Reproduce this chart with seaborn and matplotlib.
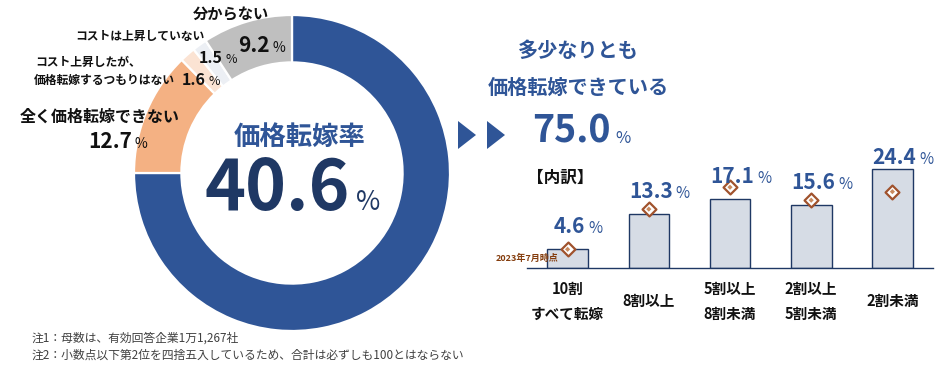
import numpy as np
import pandas as pd
import matplotlib
matplotlib.use("Agg")
import matplotlib.pyplot as plt
from matplotlib.patches import Polygon
import seaborn as sns

# ---------------- data ----------------
donut_labels = ["価格転嫁できている", "全く価格転嫁できない", "コスト上昇したが、価格転嫁するつもりはない",
                "コストは上昇していない", "分からない"]
donut_values = [75.0, 12.7, 1.6, 1.5, 9.2]
pass_rate = "40.6"

bar_categories = ["10割\nすべて転嫁", "8割以上", "5割以上\n8割未満", "2割以上\n5割未満", "2割未満"]
bar_values = [4.6, 13.3, 17.1, 15.6, 24.4]
prev_values = [4.6, 14.5, 19.9, 16.7, 18.8]   # 2023年7月時点
bar_labels = ["4.6", "13.3", "17.1", "15.6", "24.4"]

notes = ["注1：母数は、有効回答企業1万1,267社",
         "注2：小数点以下第2位を四捨五入しているため、合計は必ずしも100とはならない"]

# ---------------- style ----------------
sns.set_theme(style="white")
plt.rcParams["font.family"] = ["Noto Sans CJK JP", "DejaVu Sans"]

W, H = 948, 371
fig = plt.figure(figsize=(W / 100, H / 100), dpi=100)
fig.patch.set_facecolor("white")
renderer = fig.canvas.get_renderer()

BLUE = "#2F5597"
NAVY = "#1F3864"
donut_colors = ["#2F5597", "#F4B183", "#FBE3D3", "#ECEFF4", "#BFBFBF"]


def P(x, y):
    return (x / W, 1 - y / H)


def num_pct(xd, yd, num, size, pctsize, color, gap=3, ha="center", pctcolor=None):
    """xd, yd are display pixels (origin bottom-left)."""
    t = fig.text(xd / W, yd / H, num, fontsize=size, fontweight="bold", color=color,
                 ha=ha, va="baseline")
    bb = t.get_window_extent(renderer)
    fig.text((bb.x1 + gap) / W, yd / H, "%", fontsize=pctsize, fontweight="normal",
             color=pctcolor or color, ha="left", va="baseline")


def num_pct_px(x, y, *a, **k):
    num_pct(x, H - y, *a, **k)


# ---------------- donut ----------------
cx, cy, R = 292, 173, 158
axd = fig.add_axes([(cx - R) / W, (H - cy - R) / H, 2 * R / W, 2 * R / H])
axd.pie(donut_values, colors=donut_colors, startangle=90, counterclock=False, radius=1,
        wedgeprops=dict(width=0.30, edgecolor="white", linewidth=1.6))
axd.set_xlim(-1, 1)
axd.set_ylim(-1, 1)
axd.axis("off")

fig.text(*P(300, 137), "価格転嫁率", fontsize=19, fontweight="bold", color=BLUE,
         ha="center", va="center")
num_pct_px(277, 210, pass_rate, 50, 19, NAVY, gap=6)

# outside labels
fig.text(*P(231, 14), "分からない", fontsize=11, fontweight="bold", color="#111111",
         ha="center", va="center")
fig.text(*P(205, 36), "コストは上昇していない", fontsize=8.5, fontweight="bold",
         color="#111111", ha="right", va="center")
fig.text(*P(35, 62), "コスト上昇したが、", fontsize=8.5, fontweight="bold",
         color="#111111", ha="left", va="center")
fig.text(*P(34, 80), "価格転嫁するつもりはない", fontsize=8.5, fontweight="bold",
         color="#111111", ha="left", va="center")
fig.text(*P(20, 117), "全く価格転嫁できない", fontsize=11.5, fontweight="bold",
         color="#111111", ha="left", va="center")

num_pct_px(254, 52, "9.2", 15, 10, "#111111")
num_pct_px(211, 63, "1.5", 11.5, 9, "#111111")
num_pct_px(194, 85, "1.6", 11.5, 9, "#111111")
num_pct_px(110, 148, "12.7", 15, 10, "#111111")

# arrows
for x0 in (458, 487):
    pts = [P(x0, 121), P(x0 + 18, 135), P(x0, 149)]
    fig.patches.append(Polygon(pts, closed=True, transform=fig.transFigure,
                               facecolor=BLUE, edgecolor="none"))

fig.text(*P(578, 50), "多少なりとも", fontsize=14.5, fontweight="bold", color=BLUE,
         ha="center", va="center")
fig.text(*P(578, 87), "価格転嫁できている", fontsize=14.5, fontweight="bold", color=BLUE,
         ha="center", va="center")
num_pct_px(571, 143, "75.0", 27, 12, BLUE, gap=5)

fig.text(*P(527, 178), "【内訳】", fontsize=12, fontweight="bold", color="#111111",
         ha="left", va="center")

# ---------------- bars ----------------
x0, x1, base, ppu = 527, 933, 268, 4.06
ymax = 30
axb = fig.add_axes([x0 / W, (H - base) / H, (x1 - x0) / W, ymax * ppu / H])
df = pd.DataFrame({"cat": bar_categories, "val": bar_values, "prev": prev_values,
                   "pos": np.arange(len(bar_categories))})
sns.barplot(data=df, x="cat", y="val", ax=axb, color="#D6DCE5", saturation=1,
            edgecolor=NAVY, linewidth=1.0, width=0.5)
axb.set_xlim(-0.5, len(bar_categories) - 0.5)
axb.set_ylim(0, ymax)
sns.scatterplot(data=df, x="pos", y="prev", ax=axb, marker="D", s=50,
                facecolor="white", edgecolor="#A0522D", linewidth=1.6, zorder=5, legend=False)
sns.scatterplot(data=df, x="pos", y="prev", ax=axb, marker="D", s=7,
                color="#C98A5E", edgecolor="none", linewidth=0, zorder=6, legend=False)
axb.patch.set_alpha(0)
for s in ("left", "right", "top"):
    axb.spines[s].set_visible(False)
axb.spines["bottom"].set_color(NAVY)
axb.spines["bottom"].set_linewidth(1.0)
axb.set_yticks([])
axb.set_xlabel("")
axb.set_ylabel("")
axb.set_xticks(np.arange(len(bar_categories)))
axb.set_xticklabels(bar_categories, fontsize=10.5, fontweight="bold", color="#111111",
                    va="center", linespacing=1.75)
axb.tick_params(axis="x", which="major", length=0, pad=24)
axb.set_xticks(np.arange(len(bar_categories) + 1) - 0.5, minor=True)
axb.tick_params(axis="x", which="minor", length=4, width=1, color=NAVY, direction="out")

axb.annotate("2023年7月時点", xy=(0, prev_values[0]), xytext=(-6.5, -6.5),
             textcoords="offset points", ha="right", va="center", fontsize=6.5,
             fontweight="bold", color="#843C0C", zorder=10)

for i, (v, p, lab) in enumerate(zip(bar_values, prev_values, bar_labels)):
    xd, yd = axb.transData.transform((i, v))
    off = 16 if p > v - 1 else 5
    num_pct(xd + 2, yd + off, lab, 15, 11, BLUE)

# ---------------- notes ----------------
fig.text(*P(32, 338), notes[0], fontsize=8.5, color="#404040", ha="left", va="center")
fig.text(*P(32, 355), notes[1], fontsize=8.5, color="#404040", ha="left", va="center")

fig.savefig("out.png", dpi=100, facecolor="white")
